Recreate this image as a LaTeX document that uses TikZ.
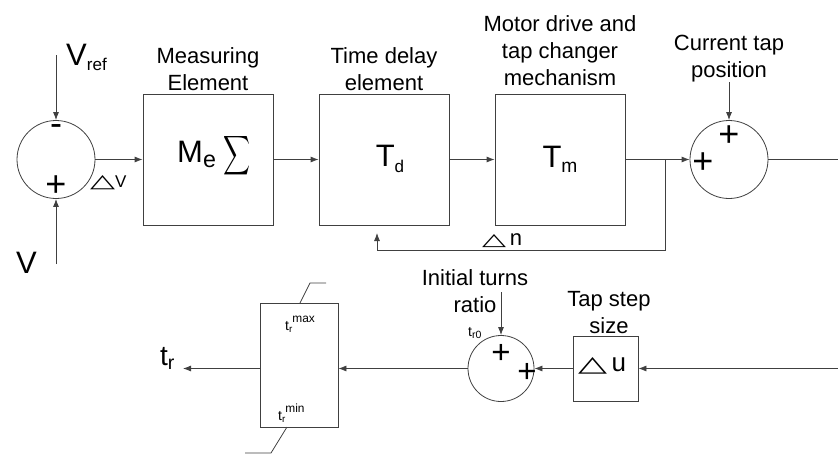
\documentclass[tikz,border=0pt]{standalone}
\usepackage{fontspec}
\setmainfont{Liberation Sans}
\newfontfamily\symfont{DejaVu Sans}
\usetikzlibrary{arrows.meta,positioning}
\definecolor{linec}{HTML}{404040}
\newcommand{\fsz}[1]{\fontsize{#1}{#1}\selectfont}
\newcommand{\lowidx}[2][0.6]{\raisebox{-0.32ex}{\scalebox{#1}{#2}}}
\newcommand{\highidx}[2][0.6]{\raisebox{1.05ex}{\scalebox{#1}{#2}}}
\newcommand{\dtri}[2]{\resizebox{#1}{#2}{\symfont △}}

\begin{document}
\begin{tikzpicture}[x=1pt, y=-1pt,
    wire/.style={draw=linec, line width=0.8pt},
    conn/.style={wire, -{Latex[length=8pt,width=6pt]}},
    blk/.style={wire, minimum width=130pt, minimum height=131pt, inner sep=0pt},
    sumnode/.style={wire, circle, inner sep=0pt},
    lab/.style={align=center, anchor=south, inner sep=0pt,
      font=\fontsize{22}{27}\selectfont},
    big/.style={inner sep=0pt, font=\fsz{31}},
    sgn/.style={inner sep=0pt, font=\fsz{36}},
    small/.style={inner sep=0pt, anchor=base west, font=\fsz{14}}
  ]
  \useasboundingbox (0,0) rectangle (838,456);

  % upper chain: comparator, measuring, delay, motor, tap sum
  \node[sumnode, minimum size=78pt] (sumv) at (56,159.5) {};
  \node[blk] (meas) at (208,159.5) {};
  \node[blk] (delay) at (384,159.5) {};
  \node[blk] (motor) at (560,159.5) {};
  \node[sumnode, minimum size=78pt] (sumt) at (729,159.5) {};

  \node[big, anchor=base west] (meastxt) at (177,162)
    {M\lowidx[0.75]{e}\hspace{8pt}\raisebox{-11pt}{\resizebox{27pt}{39pt}{$\displaystyle\sum$}}};
  \node[big] (delaytxt) at (390,159) {T\lowidx[0.55]{d}};
  \node[big] (motortxt) at (560,159) {T\lowidx[0.62]{m}};

  \node[lab] (measlab) at (208,91) {Measuring\\Element};
  \node[lab] (delaylab) at (384,91) {Time delay\\element};
  \node[lab] (motorlab) at (560,86) {Motor drive and\\tap changer\\mechanism};
  \node[lab] (curlab) at (729,82) {Current tap\\position};

  \node[big, anchor=base west] (vref) at (66,65) {V\lowidx[0.55]{ref}};
  \node[big, anchor=base west] (vin) at (16,273) {V};
  \node[sgn] (minus) at (56,130) {-};
  \node[sgn] (plusv) at (56,186) {+};
  \node[sgn] (plusa) at (729,136) {+};
  \node[sgn] (plusb) at (703,163) {+};
  \node[inner sep=0pt, anchor=base west, font=\fsz{17}] (dv)
    at (90,187) {\dtri{25pt}{12pt}V};
  \node[inner sep=0pt, anchor=base west, font=\fsz{22}] (dn)
    at (482,245) {\dtri{24pt}{11pt}\,n};

  \coordinate (vreftop) at (56,55);
  \coordinate (vinbot) at (56,264);
  \coordinate (jn) at (665,159.5);
  \coordinate (fbtip) at (377,233);
  \coordinate (outr) at (838,159.5);

  \draw[conn] (vreftop) -- (sumv.north);
  \draw[conn] (vinbot) -- (sumv.south);
  \draw[conn] (sumv.east) -- (meas.west);
  \draw[conn] (meas.east) -- (delay.west);
  \draw[conn] (delay.east) -- (motor.west);
  \draw[conn] (motor.east) -- (sumt.west);
  \draw[conn] (jn) -- (665,250) -| (fbtip);
  \draw[conn] (curlab.south |- 0,82) -- (sumt.north);
  \draw[wire] (sumt.east) -- (outr);

  % lower chain: step size, initial ratio sum, limiter
  \node[wire, minimum size=65pt, inner sep=0pt] (step) at (605.5,368.5) {};
  \node[sumnode, minimum size=66pt] (sumr) at (501,368.5) {};
  \node[wire, minimum width=78pt, minimum height=124pt, inner sep=0pt]
    (lim) at (299,365) {};

  \node[inner sep=0pt, anchor=base west, font=\fsz{26}] (dutxt)
    at (578,371) {\dtri{29pt}{14pt}\,u};
  \node[sgn, font=\fsz{33}] (plusc) at (501,354) {+};
  \node[sgn, font=\fsz{33}] (plusd) at (527,373) {+};
  \node[small] (tr0) at (468,336) {t\lowidx[0.75]{r0}};
  \node[small] (trmax) at (285,330) {t\lowidx[0.7]{r}\highidx[0.85]{max}};
  \node[small] (trmin) at (278,420) {t\lowidx[0.7]{r}\highidx[0.85]{min}};
  \node[big, anchor=base west, font=\fsz{28}] (trout) at (160,365) {t\lowidx[0.7]{r}};

  \node[lab] (initlab) at (475,313) {Initial turns\\ratio};
  \node[lab] (steplab) at (609,334) {Tap step\\size};

  \coordinate (inr) at (838,368.5);
  \coordinate (trtip) at (183,368.5);
  \coordinate (initbot) at (501,292);

  \draw[conn] (inr) -- (step.east);
  \draw[conn] (step.west) -- (sumr.east);
  \draw[conn] (sumr.west) -- (sumr.west -| lim.east);
  \draw[conn] (lim.west |- sumr.west) -- (trtip);
  \draw[conn] (initbot) -- (sumr.north);

  % saturation limits
  \draw[wire] (300,303) -- (310,283) -- (326,283);
  \draw[wire] (287,427) -- (271,453) -- (245,453);
\end{tikzpicture}
\end{document}
